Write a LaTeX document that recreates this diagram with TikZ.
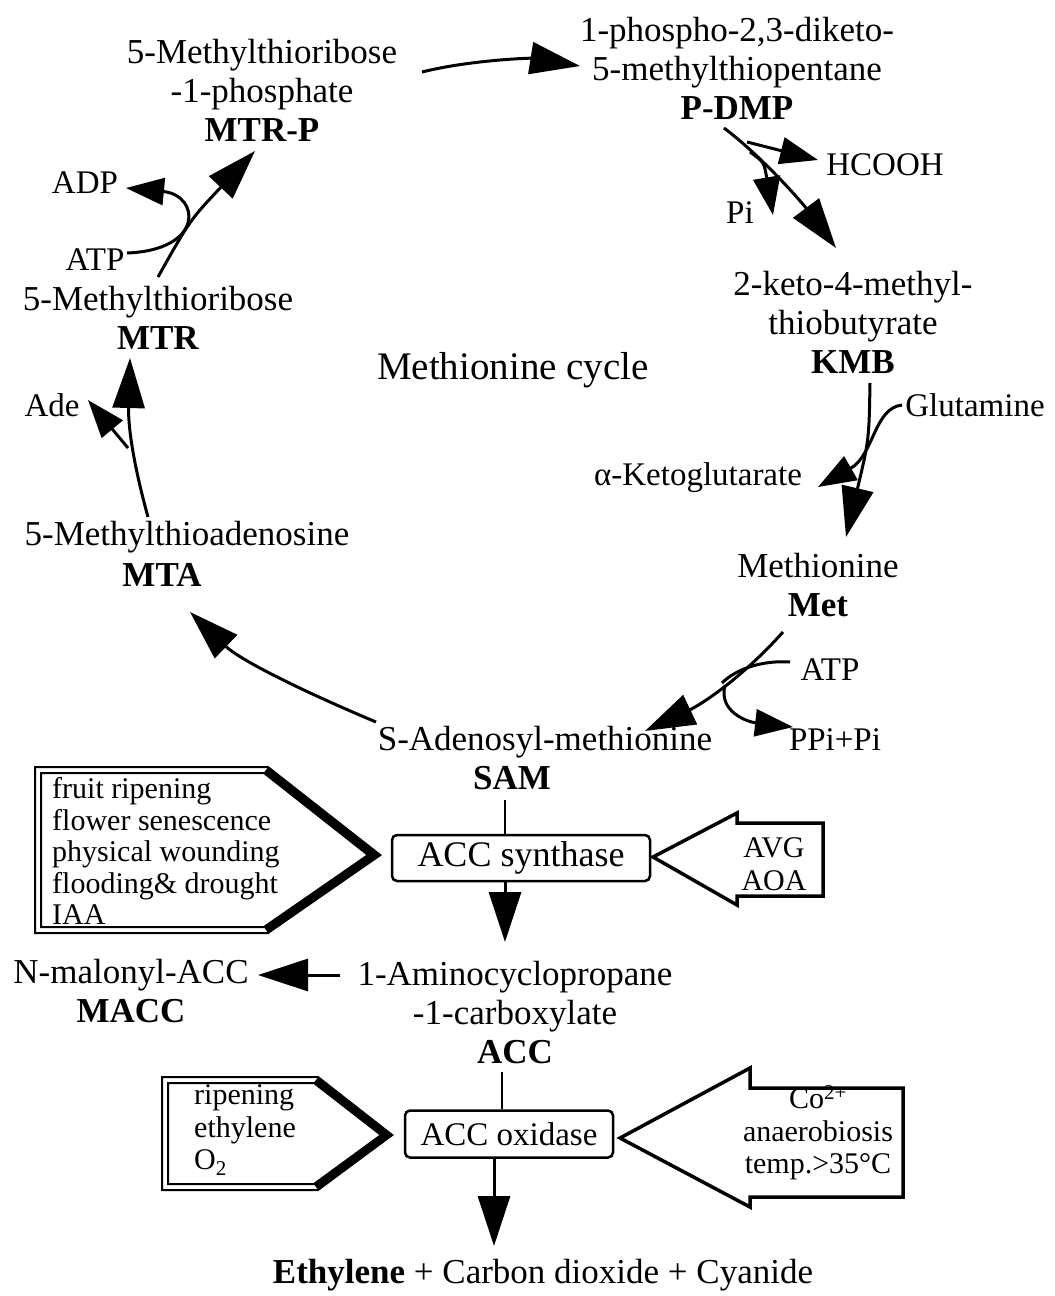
\documentclass[tikz,border=0pt]{standalone}
\usepackage{fontspec}
\setmainfont{Liberation Serif}
\usetikzlibrary{arrows.meta,calc}
\begin{document}
\begin{tikzpicture}[x=1pt,y=-1pt,
  lbl/.style={font=\fontsize{35}{39}\selectfont, align=center, inner sep=0pt},
  sm/.style={font=\fontsize{33}{39}\selectfont, inner sep=0pt},
  boxtxt/.style={font=\fontsize{30}{32.5}\selectfont, inner sep=0pt},
  big/.style={line width=3pt, -{Triangle[length=50pt,width=32pt]}},
  med/.style={line width=3pt, -{Triangle[length=38pt,width=27pt]}},
  thinl/.style={line width=3pt},
  enz/.style={draw, line width=2.5pt, rounded corners=5pt, inner sep=0pt},
  blk/.style={draw, line width=3.5pt, line join=miter},
  pent/.style={draw, line width=2pt},
  penthick/.style={draw, line width=8pt, line join=miter}]
\useasboundingbox (0,0) rectangle (1055,1296);

% --- cycle metabolites ---
\node[lbl] (mtrp) at (262,90) {5-Methylthioribose\\-1-phosphate\\\textbf{MTR-P}};
\node[lbl] (pdmp) at (737,68) {1-phospho-2,3-diketo-\\5-methylthiopentane\\\textbf{P-DMP}};
\node[lbl] (kmb) at (853,322) {2-keto-4-methyl-\\thiobutyrate\\\textbf{KMB}};
\node[lbl] (met) at (818,585) {Methionine\\\textbf{Met}};
\node[lbl] (sam) at (545,742) {S-Adenosyl-methionine};
\node[lbl] (samb) at (512,778) {\textbf{SAM}};
\node[lbl] (mta) at (187,537) {5-Methylthioadenosine};
\node[lbl] (mtab) at (162,575) {\textbf{MTA}};
\node[lbl] (mtr) at (158,318) {5-Methylthioribose\\\textbf{MTR}};
\node[font=\fontsize{39}{44}\selectfont, inner sep=0pt] (cyc) at (513,370) {Methionine cycle};

% --- side labels ---
\node[sm] (adp) at (85,183) {ADP};
\node[sm] (atp1) at (95,260) {ATP};
\node[sm] (hcooh) at (885,165) {HCOOH};
\node[sm] (pi) at (740,213) {Pi};
\node[sm] (glu) at (975,405) {Glutamine};
\node[sm] (akg) at (698,478) {α-Ketoglutarate};
\node[sm] (atp2) at (830,670) {ATP};
\node[sm] (ppi) at (835,740) {PPi+Pi};
\node[sm] (ade) at (52,405) {Ade};

% --- coordinates for connector ends ---
\coordinate (a1s) at (422,72);   \coordinate (a1e) at (580,66);
\coordinate (a2s) at (724,128);  \coordinate (a2e) at (836,248);
\coordinate (hs) at (747,142);   \coordinate (he) at (818,160);
\coordinate (ps) at (750,152);   \coordinate (pe) at (773,215);
\coordinate (a3s) at (870,383);  \coordinate (a3e) at (846,537);
\coordinate (gs) at (902,405);   \coordinate (ge) at (818,487);
\coordinate (a4s) at (783,632);  \coordinate (a4e) at (645,731);
\coordinate (as) at (790,662);   \coordinate (aj) at (722,683);
\coordinate (pps) at (725,685);  \coordinate (ppe) at (793,727);
\coordinate (a5s) at (376,722);  \coordinate (a5e) at (190,612);
\coordinate (a6s) at (148,517);  \coordinate (a6e) at (130,358);
\coordinate (ads) at (128,448);  \coordinate (ade2) at (88,400);
\coordinate (a7s) at (158,277);  \coordinate (a7e) at (255,151);
\coordinate (ts) at (127,253);   \coordinate (te) at (126,188);

% --- cycle arrows ---
\draw[big] (a1s) .. controls (470,60) and (530,58) .. (a1e);
\draw[big] (a2s) .. controls (760,155) and (800,200) .. (a2e);
\draw[med] (hs) -- (he);
\draw[med] (ps) .. controls (764,162) .. (pe);
\draw[big] (a3s) .. controls (869,440) .. (a3e);
\draw[med] (gs) .. controls (874,408) and (874,455) .. (ge);
\draw[big] (a4s) .. controls (740,680) and (700,705) .. (a4e);
\draw[thinl] (as) .. controls (760,660) and (735,670) .. (aj);
\draw[med] (pps) .. controls (718,712) and (748,722) .. (ppe);
\draw[big] (a5s) .. controls (300,690) and (240,660) .. (a5e);
\draw[big] (a6s) .. controls (135,470) and (128,430) .. (a6e);
\draw[med] (ads) -- (ade2);
\draw[big] (a7s) .. controls (190,220) .. (a7e);
\draw[med] (ts) .. controls (205,250) and (200,195) .. (te);

% --- lower part ---
\node[enz, minimum width=258pt, minimum height=46pt, font=\fontsize{36}{40}\selectfont] (accs) at (521,858) {ACC synthase};
\node[lbl] (acc) at (515,1013) {1-Aminocyclopropane\\-1-carboxylate\\\textbf{ACC}};
\node[lbl] (macc) at (131,991) {N-malonyl-ACC\\\textbf{MACC}};
\node[enz, minimum width=208pt, minimum height=47pt, font=\fontsize{33}{39}\selectfont] (acco) at (509,1134) {ACC oxidase};
\node[font=\fontsize{35}{39}\selectfont, inner sep=0pt] (prod) at (543,1275) {\textbf{Ethylene} + Carbon dioxide + Cyanide};

\coordinate (l1s) at (505,800);
\coordinate (l2e) at (505,942);
\coordinate (m1s) at (340,975); \coordinate (m1e) at (258,975);
\coordinate (l3s) at (502,1072);
\coordinate (l4s) at (494,1158); \coordinate (l4e) at (494,1246);

\draw[line width=2.5pt] (l1s) -- (l1s |- accs.north);
\draw[big] (l1s |- accs.south) -- (l2e);
\draw[big] (m1s) -- (m1e);
\draw[line width=2.5pt] (l3s) -- (l3s |- acco.north);
\draw[big] (l4s) -- (l4e);

% left pentagon 1
\path[pent] (35,767) -- (268,767) -- (380,855) -- (268,933) -- (35,933) -- cycle;
\path[pent] (41,773) -- (264,773) -- (368,855) -- (264,927) -- (41,927) -- cycle;
\path[penthick] (266,770) -- (375,855) -- (266,930);
\node[boxtxt, font=\fontsize{30}{31.5}\selectfont, align=left, anchor=west] (stim1) at (52,851) {fruit ripening\\flower senescence\\physical wounding\\flooding\& drought\\IAA};

% right block arrow 1
\path[blk] (653,857) -- (737,813) -- (737,823) -- (823,823) -- (823,896) -- (737,896) -- (737,905) -- cycle;
\node[boxtxt, align=center] (inh1) at (774,864) {AVG\\AOA};

% left pentagon 2
\path[pent] (162,1077) -- (318,1077) -- (392,1135) -- (318,1190) -- (162,1190) -- cycle;
\path[pent] (168,1083) -- (314,1083) -- (381,1135) -- (314,1184) -- (168,1184) -- cycle;
\path[penthick] (316,1080) -- (387,1135) -- (316,1187);
\node[boxtxt, align=left, anchor=west] (stim2) at (194,1130) {ripening\\ethylene\\O\textsubscript{2}};

% right block arrow 2
\path[blk] (620,1138) -- (750,1068) -- (750,1088) -- (903,1088) -- (903,1197) -- (750,1197) -- (750,1207) -- cycle;
\node[boxtxt, align=center] (inh2) at (818,1133) {Co\textsuperscript{2+}\\anaerobiosis\\temp.>35°C};
\end{tikzpicture}
\end{document}
